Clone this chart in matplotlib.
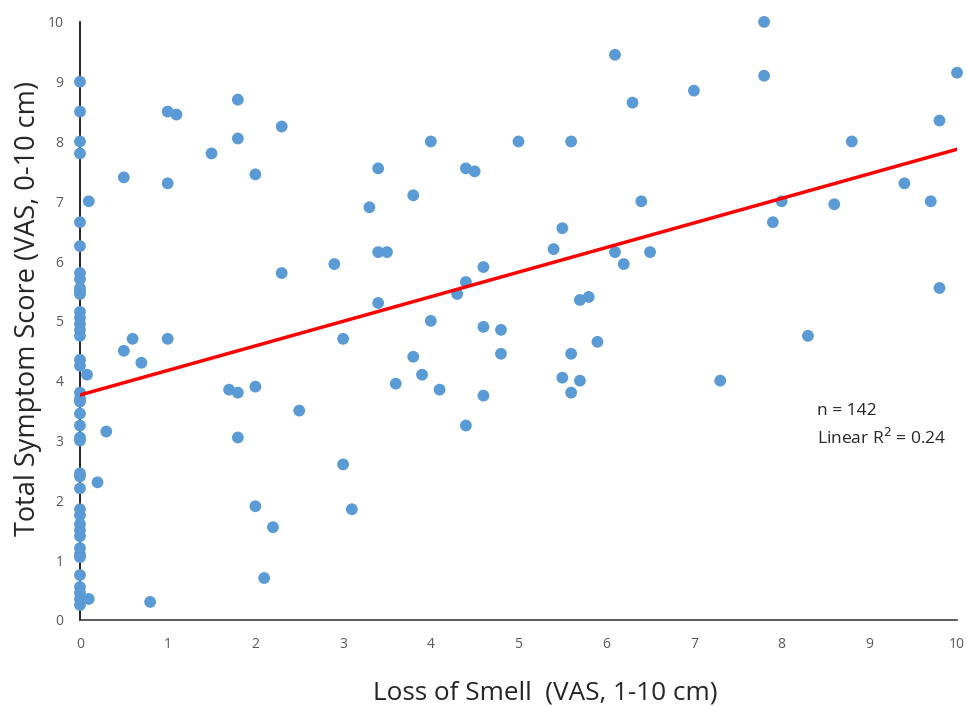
import matplotlib
matplotlib.use("Agg")
import matplotlib.pyplot as plt
import numpy as np

# Points at x = 0
zero_y = [9.0, 8.5, 8.0, 7.8, 6.65, 6.25, 5.8, 5.7, 5.55, 5.5, 5.45, 5.15, 5.05,
          4.95, 4.85, 4.75, 4.35, 4.25, 3.8, 3.7, 3.65, 3.45, 3.25, 3.05, 3.0,
          2.45, 2.4, 2.2, 1.85, 1.75, 1.6, 1.5, 1.4, 1.2, 1.1, 1.05, 0.75, 0.55,
          0.45, 0.35, 0.25]

other_x = [0.1, 0.08, 0.3, 0.2, 0.1, 0.8, 0.5, 0.5, 0.6, 0.7, 1.0, 1.1, 1.0, 1.0,
           1.5, 1.8, 1.8, 2.0, 2.3, 2.3, 1.7, 1.8, 2.0, 1.8, 2.5, 2.0, 2.2, 2.1,
           2.9, 3.0, 3.0, 3.1, 3.3, 3.4, 3.4, 3.5, 3.4, 3.6, 3.8, 3.8, 3.9, 4.0,
           4.0, 4.1, 4.4, 4.5, 4.4, 4.3, 4.6, 4.6, 4.8, 4.8, 4.6, 4.4, 5.0, 5.6,
           5.4, 5.5, 5.5, 5.6, 5.7, 5.6, 5.7, 5.8, 5.9, 6.1, 6.3, 6.4, 6.1, 6.2,
           6.5, 7.0, 7.3, 7.8, 7.8, 8.0, 7.9, 8.3, 8.6, 8.8, 9.4, 9.7, 9.8, 9.8,
           10.0]
other_y = [7.0, 4.1, 3.15, 2.3, 0.35, 0.3, 7.4, 4.5, 4.7, 4.3, 8.5, 8.45, 7.3, 4.7,
           7.8, 8.7, 8.05, 7.45, 8.25, 5.8, 3.85, 3.8, 3.9, 3.05, 3.5, 1.9, 1.55, 0.7,
           5.95, 4.7, 2.6, 1.85, 6.9, 7.55, 6.15, 6.15, 5.3, 3.95, 7.1, 4.4, 4.1, 8.0,
           5.0, 3.85, 7.55, 7.5, 5.65, 5.45, 5.9, 4.9, 4.85, 4.45, 3.75, 3.25, 8.0, 8.0,
           6.2, 6.55, 4.05, 4.45, 4.0, 3.8, 5.35, 5.4, 4.65, 9.45, 8.65, 7.0, 6.15, 5.95,
           6.15, 8.85, 4.0, 10.0, 9.1, 7.0, 6.65, 4.75, 6.95, 8.0, 7.3, 7.0, 8.35, 5.55,
           9.15]

trend_intercept = 3.76
trend_slope = 0.411

x_ticks = list(range(0, 11))
y_ticks = list(range(0, 11))

xs = [0.0] * len(zero_y) + other_x
ys = zero_y + other_y

plt.rcParams['font.family'] = ['Open Sans', 'DejaVu Sans']

fig = plt.figure(figsize=(9.67, 7.06), dpi=100)
ax = fig.add_axes([0.0827, 0.122, 0.907, 0.847])

ax.scatter(xs, ys, s=72, color='#5B9BD5', edgecolors='none', zorder=3, clip_on=False)

lx = np.array([0, 10])
ax.plot(lx, trend_intercept + trend_slope * lx, color='#FF0000', lw=2.5, zorder=4)

ax.set_xlim(0, 10)
ax.set_ylim(0, 10)
ax.set_xticks(x_ticks)
ax.set_yticks(y_ticks)
ax.tick_params(length=0, labelsize=10, colors='#595959', pad=12)
for s in ['top', 'right']:
    ax.spines[s].set_visible(False)
for s in ['left', 'bottom']:
    ax.spines[s].set_color('#000000')
    ax.spines[s].set_linewidth(1.2)
ax.spines['bottom'].set_color('#404040')

ax.set_xlabel('Loss of Smell  (VAS, 1-10 cm)', fontsize=18.8, color='#262626', labelpad=21)
ax.xaxis.label.set_x(0.531)
ax.set_ylabel('Total Symptom Score (VAS, 0-10 cm)', fontsize=19.5, color='#262626', labelpad=4)
ax.yaxis.label.set_y(0.52)

ax.text(8.4, 3.5, 'n = 142', fontsize=12.5, color='#262626', va='center', ha='left')
ax.text(8.4, 3.05, 'Linear R$^2$ = 0.24', fontsize=12.5, color='#262626', va='center', ha='left')

fig.savefig('out.png', dpi=100, facecolor='white')
